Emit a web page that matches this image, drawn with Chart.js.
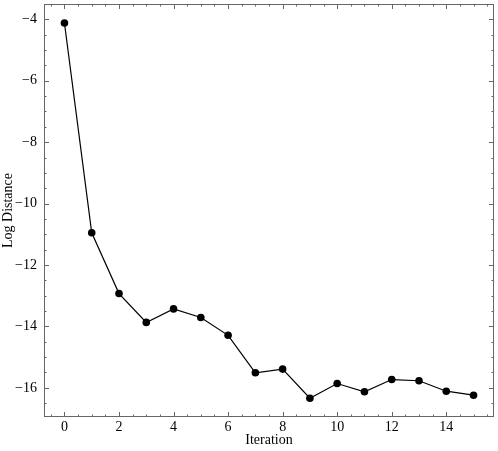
<!DOCTYPE html>
<html>
<head>
<meta charset="utf-8">
<script src="https://cdn.jsdelivr.net/npm/chart.js@4.4.0/dist/chart.umd.min.js"></script>
<style>
    html, body { margin: 0; padding: 0; background: #ffffff; }
    #wrap { width: 498px; height: 451px; }
</style>
</head>
<body>
<div id="wrap"><canvas id="distChart"></canvas></div>
<script>
// Data
const iterations = [0, 1, 2, 3, 4, 5, 6, 7, 8, 9, 10, 11, 12, 13, 14, 15];
const logDistance = [-4.12, -10.95, -12.93, -13.87, -13.43, -13.71, -14.29, -15.51, -15.39, -16.34, -15.86, -16.13, -15.73, -15.77, -16.11, -16.24];

// Tick labels
const xTicks = [0, 2, 4, 6, 8, 10, 12, 14];
const yTicks = [-16, -14, -12, -10, -8, -6, -4];
const minorStep = 0.5;

const serif = "'Liberation Serif', 'DejaVu Serif', serif";

function fmt(v) {
    return v < 0 ? '\u2212' + Math.abs(v) : String(v);
}

// Frame with inward ticks on all four sides
const frameTicks = {
    id: 'frameTicks',
    afterDatasetsDraw(chart) {
        const ctx = chart.ctx;
        const a = chart.chartArea;
        const xs = chart.scales.x;
        const ys = chart.scales.y;
        ctx.save();
        ctx.strokeStyle = '#666666';
        ctx.lineWidth = 1;
        ctx.strokeRect(a.left + 0.5, a.top + 0.5, a.right - a.left - 1, a.bottom - a.top - 1);

        ctx.beginPath();
        // x ticks (bottom + top)
        for (let v = Math.ceil(xs.min / minorStep) * minorStep; v <= xs.max; v += minorStep) {
            const px = Math.round(xs.getPixelForValue(v)) + 0.5;
            const len = xTicks.includes(v) ? 5 : 2.5;
            ctx.moveTo(px, a.bottom);
            ctx.lineTo(px, a.bottom - len);
            ctx.moveTo(px, a.top);
            ctx.lineTo(px, a.top + len);
        }
        // y ticks (left + right)
        for (let v = Math.ceil(ys.min / minorStep) * minorStep; v <= ys.max; v += minorStep) {
            const py = Math.round(ys.getPixelForValue(v)) + 0.5;
            const len = yTicks.includes(v) ? 5 : 2.5;
            ctx.moveTo(a.left, py);
            ctx.lineTo(a.left + len, py);
            ctx.moveTo(a.right, py);
            ctx.lineTo(a.right - len, py);
        }
        ctx.stroke();
        ctx.restore();
    }
};

const ctx = document.getElementById('distChart').getContext('2d');
const distChart = new Chart(ctx, {
    type: 'line',
    data: {
        datasets: [{
            label: 'Log Distance',
            data: iterations.map((it, i) => ({ x: it, y: logDistance[i] })),
            borderColor: '#000000',
            backgroundColor: '#000000',
            borderWidth: 1.2,
            pointRadius: 3.8,
            pointBorderWidth: 0,
            pointBackgroundColor: '#000000',
            tension: 0,
            fill: false
        }]
    },
    options: {
        responsive: true,
        maintainAspectRatio: false,
        animation: false,
        events: [],
        layout: { padding: { top: 3, right: 3, left: 0, bottom: 0 } },
        plugins: {
            legend: { display: false },
            tooltip: { enabled: false }
        },
        scales: {
            x: {
                type: 'linear',
                min: -0.75,
                max: 15.75,
                afterBuildTicks: function(scale) { scale.ticks = xTicks.map(v => ({ value: v })); },
                afterFit: function(scale) {
                    scale.height = 34;
                    scale.paddingLeft = 0;
                    scale.paddingRight = 0;
                },
                grid: { display: false, drawTicks: false },
                border: { display: false },
                ticks: {
                    color: '#000000',
                    font: { family: serif, size: 14 },
                    padding: 2,
                    maxRotation: 0,
                    autoSkip: false,
                    callback: function(value) { return fmt(value); }
                },
                title: {
                    display: true,
                    text: 'Iteration',
                    color: '#000000',
                    font: { family: serif, size: 14 },
                    padding: { top: 0, bottom: 2 }
                }
            },
            y: {
                type: 'linear',
                min: -16.95,
                max: -3.5,
                afterBuildTicks: function(scale) { scale.ticks = yTicks.map(v => ({ value: v })); },
                afterFit: function(scale) {
                    scale.width = 44;
                    scale.paddingTop = 0;
                    scale.paddingBottom = 0;
                },
                grid: { display: false, drawTicks: false },
                border: { display: false },
                ticks: {
                    color: '#000000',
                    font: { family: serif, size: 14 },
                    padding: 7,
                    autoSkip: false,
                    callback: function(value) { return fmt(value); }
                },
                title: {
                    display: true,
                    text: 'Log Distance',
                    color: '#000000',
                    font: { family: serif, size: 14 },
                    padding: { top: 0, bottom: 0 }
                }
            }
        }
    },
    plugins: [frameTicks]
});
</script>
</body>
</html>
